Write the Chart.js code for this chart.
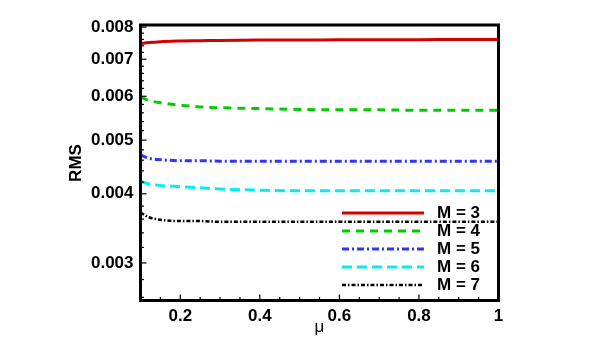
<!DOCTYPE html>
<html>
<head>
<meta charset="utf-8">
<script src="https://cdn.jsdelivr.net/npm/chart.js@4/dist/chart.umd.min.js"></script>
<style>
  html, body { margin: 0; padding: 0; background: #fff; }
  #wrap { width: 603px; height: 350px; }
</style>
</head>
<body>
<div id="wrap"><canvas id="chart" width="603" height="350"></canvas></div>
<script>
// values
const muValues = [0.1, 0.12, 0.15, 0.2, 0.25, 0.3, 0.4, 0.5, 0.6, 0.7, 0.8, 0.9, 1.0];
const rmsM3 = [0.00747, 0.00750, 0.00753, 0.00755, 0.00756, 0.00757, 0.00758, 0.00758, 0.00759, 0.00759, 0.00759, 0.00760, 0.00760];
const rmsM4 = [0.00598, 0.00590, 0.00584, 0.00578, 0.00574, 0.00572, 0.00570, 0.00568, 0.00567, 0.00567, 0.00566, 0.00566, 0.00566];
const rmsM5 = [0.00470, 0.00464, 0.00461, 0.00459, 0.00459, 0.00458, 0.00458, 0.00458, 0.00458, 0.00458, 0.00458, 0.00458, 0.00458];
const rmsM6 = [0.00421, 0.00417, 0.00414, 0.00412, 0.00410, 0.00408, 0.00406, 0.00405, 0.00405, 0.00405, 0.00405, 0.00405, 0.00405];
const rmsM7 = [0.00370, 0.00363, 0.00359, 0.00357, 0.00357, 0.00356, 0.00356, 0.00356, 0.00356, 0.00356, 0.00356, 0.00356, 0.00356];
const seriesLabels = ['M = 3', 'M = 4', 'M = 5', 'M = 6', 'M = 7'];
const xTickLabels = [0.2, 0.4, 0.6, 0.8, 1];
const yTickLabels = [0.003, 0.004, 0.005, 0.006, 0.007, 0.008];

const FONT = 'Arial, "Liberation Sans", sans-serif';

const toPoints = (ys) => ys.map((y, i) => ({ x: muValues[i], y }));
const isLabelled = (v, list) => list.some(t => Math.abs(t - v) < 1e-9);

const styles = [
    { color: '#d40000', dash: [], width: 3 },
    { color: '#00cc00', dash: [8, 6], width: 3 },
    { color: '#3333ff', dash: [7, 3, 2, 3], width: 3 },
    { color: '#00f0f0', dash: [10, 5], width: 3 },
    { color: '#000000', dash: [4, 2, 1.5, 2], width: 2.5 },
];

const datasets = [rmsM3, rmsM4, rmsM5, rmsM6, rmsM7].map((ys, i) => ({
    label: seriesLabels[i],
    data: toPoints(ys),
    borderColor: styles[i].color,
    borderDash: styles[i].dash,
    borderWidth: styles[i].width,
    cubicInterpolationMode: 'monotone',
    pointRadius: 0,
    fill: false,
}));

// frame + inward tick marks, like the original plot
const framePlugin = {
    id: 'frame',
    afterDatasetsDraw(chart) {
        const { ctx, chartArea: a, scales } = chart;
        ctx.save();
        ctx.strokeStyle = '#000';
        ctx.lineWidth = 1.2;
        scales.x.ticks.forEach(t => {
            const px = scales.x.getPixelForValue(t.value);
            const len = isLabelled(t.value, xTickLabels) ? 6 : 3.5;
            ctx.beginPath();
            ctx.moveTo(px, a.bottom);
            ctx.lineTo(px, a.bottom - len);
            ctx.stroke();
        });
        scales.y.ticks.forEach(t => {
            const py = scales.y.getPixelForValue(t.value);
            const len = isLabelled(t.value, yTickLabels) ? 6 : 3.5;
            ctx.beginPath();
            ctx.moveTo(a.left, py);
            ctx.lineTo(a.left + len, py);
            ctx.stroke();
        });
        ctx.lineWidth = 3;
        ctx.strokeRect(a.left, a.top, a.right - a.left, a.bottom - a.top);
        ctx.restore();
    },
    afterDraw(chart) {
        const { ctx, chartArea: a } = chart;
        ctx.save();
        ctx.fillStyle = '#000';
        // y title
        ctx.font = 'bold 17px ' + FONT;
        ctx.textAlign = 'center';
        ctx.textBaseline = 'middle';
        ctx.translate(76, 163);
        ctx.rotate(-Math.PI / 2);
        ctx.fillText('RMS', 0, 0);
        ctx.restore();
        ctx.save();
        ctx.font = '17px ' + FONT;
        ctx.textAlign = 'center';
        ctx.textBaseline = 'middle';
        ctx.fillText('\u03bc', (a.left + a.right) / 2, 327);
        ctx.restore();
    },
};

// legend inside the plot, no background, drawn from the dataset styles
const insideLegend = {
    id: 'insideLegend',
    afterDatasetsDraw(chart) {
        const { ctx } = chart;
        const x0 = 342, x1 = 424, tx = 437, y0 = 213, step = 18;
        ctx.save();
        chart.data.datasets.forEach((ds, i) => {
            const y = y0 + i * step;
            ctx.strokeStyle = ds.borderColor;
            ctx.lineWidth = ds.borderWidth;
            ctx.setLineDash(ds.borderDash);
            ctx.beginPath();
            ctx.moveTo(x0, y);
            ctx.lineTo(x1, y);
            ctx.stroke();
            ctx.setLineDash([]);
            ctx.fillStyle = '#000';
            ctx.font = 'bold 17px ' + FONT;
            ctx.textAlign = 'left';
            ctx.textBaseline = 'middle';
            ctx.fillText(ds.label, tx, y);
        });
        ctx.restore();
    },
};

new Chart(document.getElementById('chart'), {
    type: 'line',
    data: { datasets },
    options: {
        responsive: false,
        animation: false,
        layout: { padding: { top: 25, right: 104.5, bottom: 0, left: 0 } },
        plugins: { legend: { display: false }, tooltip: { enabled: false } },
        scales: {
            x: {
                type: 'linear',
                min: 0.1,
                max: 1,
                afterBuildTicks: (scale) => {
                    const ticks = [];
                    for (let k = 2; k <= 20; k++) ticks.push({ value: +(k * 0.05).toFixed(2) });
                    scale.ticks = ticks;
                },
                afterFit: (scale) => { scale.height = 49.5; },
                grid: { display: false, drawTicks: false },
                border: { display: false },
                ticks: {
                    autoSkip: false,
                    maxRotation: 0,
                    padding: 6,
                    color: '#000',
                    font: { family: FONT, size: 17, weight: 'bold' },
                    callback: (v) => isLabelled(v, xTickLabels) ? String(+v.toFixed(2)) : '',
                },
            },
            y: {
                type: 'logarithmic',
                min: 0.002566,
                max: 0.00807,
                afterBuildTicks: (scale) => {
                    const ticks = [];
                    for (let k = 13; k <= 40; k++) ticks.push({ value: +(k * 0.0002).toFixed(4) });
                    scale.ticks = ticks;
                },
                afterFit: (scale) => { scale.width = 140.5; },
                grid: { display: false, drawTicks: false },
                border: { display: false },
                ticks: {
                    autoSkip: false,
                    padding: 7,
                    color: '#000',
                    font: { family: FONT, size: 17, weight: 'bold' },
                    callback: (v) => isLabelled(v, yTickLabels) ? v.toFixed(3) : '',
                },
            },
        },
    },
    plugins: [framePlugin, insideLegend],
});
</script>
</body>
</html>
